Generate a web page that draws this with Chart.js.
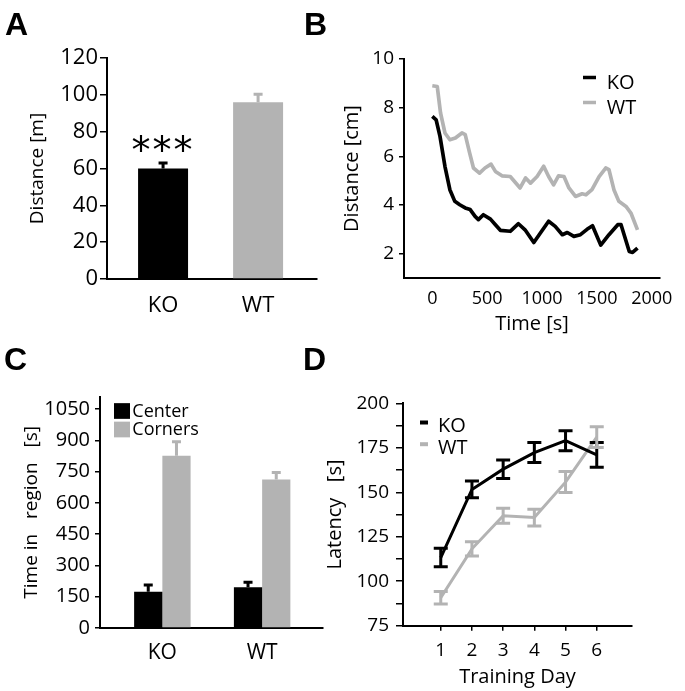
<!DOCTYPE html>
<html>
<head>
<meta charset="utf-8">
<title>Open field / latency figure</title>
<script src="https://cdn.jsdelivr.net/npm/chart.js@4.4.1/dist/chart.umd.min.js"></script>
<style>
  body { margin: 0; background: #fff; }
  #fig { position: relative; width: 685px; height: 691px; overflow: hidden; background: #fff; }
  canvas { position: absolute; }
  .tag { position: absolute; font: bold 32px "Liberation Sans", Arial, sans-serif; line-height: 32px; color: #000; }
</style>
</head>
<body>
<div id="fig">
  <canvas id="chartA" width="340" height="335" style="left:0;top:0"></canvas>
  <canvas id="chartB" width="345" height="340" style="left:340px;top:0"></canvas>
  <canvas id="chartC" width="340" height="356" style="left:0;top:335px"></canvas>
  <canvas id="chartD" width="365" height="356" style="left:320px;top:335px"></canvas>
  <div class="tag" style="left:5px;top:8px">A</div>
  <div class="tag" style="left:304px;top:8px">B</div>
  <div class="tag" style="left:4px;top:343px">C</div>
  <div class="tag" style="left:303px;top:343px">D</div>
</div>
<script>
// ---- data ----
// A: total distance
const groups = ["KO", "WT"];
const distanceM = [60, 96];
const distanceErr = [3, 4.3];
const sigMarks = ["***", ""];
const yTicksA = [0, 20, 40, 60, 80, 100, 120];

// B: distance per time bin
const koTime = [0, 35, 70, 115, 160, 205, 250, 300, 345, 390, 420, 465, 530, 575, 620, 710, 785, 845, 925, 985,
  1060, 1120, 1185, 1230, 1290, 1350, 1410, 1460, 1535, 1610, 1690, 1720, 1795, 1825, 1870];
const koDist = [7.64, 7.5, 6.82, 5.59, 4.63, 4.15, 4.01, 3.88, 3.81, 3.53, 3.4, 3.6, 3.42, 3.19, 2.96, 2.92, 3.23, 2.98, 2.46, 2.85,
  3.33, 3.12, 2.78, 2.87, 2.71, 2.78, 3.0, 3.15, 2.35, 2.78, 3.19, 3.19, 2.09, 2.05, 2.23];
const wtTime = [0, 45, 75, 115, 160, 210, 270, 300, 340, 375, 430, 480, 535, 575, 635, 710, 800, 850, 895, 955,
  1015, 1060, 1105, 1150, 1200, 1245, 1305, 1365, 1400, 1455, 1520, 1580, 1610, 1655, 1700, 1765, 1810, 1870];
const wtDist = [8.9, 8.87, 7.78, 6.96, 6.68, 6.75, 6.96, 6.89, 6.14, 5.52, 5.31, 5.52, 5.68, 5.38, 5.2, 5.17, 4.7, 5.11, 4.9, 5.17,
  5.59, 5.17, 4.83, 5.2, 5.17, 4.7, 4.35, 4.46, 4.42, 4.63, 5.17, 5.52, 5.45, 4.63, 4.15, 3.94, 3.67, 2.98];
const xTicksB = [0, 500, 1000, 1500, 2000];
const yTicksB = [2, 4, 6, 8, 10];

// C: time in region
const regions = ["Center", "Corners"];
const centerTime = [174, 195];
const centerErr = [32, 24];
const cornersTime = [826, 712];
const cornersErr = [67, 34];
const yTicksC = [0, 150, 300, 450, 600, 750, 900, 1050];

// D: latency per training day
const days = [1, 2, 3, 4, 5, 6];
const koLatency = [113.3, 151.6, 163, 172.3, 179, 171];
const koLatencyErr = [5.2, 4.7, 5.2, 5.6, 5.6, 7];
const wtLatency = [90.7, 118.2, 136.8, 135.8, 155.7, 181];
const wtLatencyErr = [3.5, 4, 4.2, 4.7, 5.9, 5.8];
const yTicksD = [75, 100, 125, 150, 175, 200];

const BLACK = "#000000";
const GRAY = "#b3b3b3";

Chart.defaults.font.family = '"Open Sans", sans-serif';
Chart.defaults.color = "#000";

// error bars drawn from the chart's own scales
const errorBars = {
  id: "errorBars",
  afterDatasetsDraw(chart) {
    const ctx = chart.ctx;
    chart.data.datasets.forEach((ds, di) => {
      if (!ds.errors) return;
      const meta = chart.getDatasetMeta(di);
      const vs = meta.vScale;
      meta.data.forEach((el, i) => {
        const v = ds.data[i].y;
        const e = ds.errors[i];
        const col = Array.isArray(ds.errColor) ? ds.errColor[i] : ds.errColor;
        const yTop = vs.getPixelForValue(v + e);
        const yBot = vs.getPixelForValue(ds.errBoth ? v - e : v);
        const hw = ds.capWidth / 2;
        ctx.save();
        ctx.strokeStyle = col;
        ctx.lineWidth = ds.errWidth;
        ctx.beginPath();
        ctx.moveTo(el.x, yTop);
        ctx.lineTo(el.x, yBot);
        ctx.moveTo(el.x - hw, yTop);
        ctx.lineTo(el.x + hw, yTop);
        if (ds.errBoth) {
          ctx.moveTo(el.x - hw, yBot);
          ctx.lineTo(el.x + hw, yBot);
        }
        ctx.stroke();
        ctx.restore();
      });
    });
  }
};

// significance stars above bars
const sigText = {
  id: "sigText",
  afterDatasetsDraw(chart) {
    const ctx = chart.ctx;
    chart.data.datasets.forEach((ds, di) => {
      if (!ds.marks) return;
      const meta = chart.getDatasetMeta(di);
      meta.data.forEach((el, i) => {
        if (!ds.marks[i]) return;
        const top = meta.vScale.getPixelForValue(ds.data[i].y + ds.errors[i]);
        ctx.save();
        ctx.font = '38px "DejaVu Sans"';
        ctx.textAlign = "center";
        ctx.textBaseline = "alphabetic";
        ctx.fillStyle = "#000";
        ctx.letterSpacing = "2px";
        ctx.fillText(ds.marks[i], el.x, top);
        ctx.restore();
      });
    });
  }
};

// small legend: dash or box + label, positioned in canvas px
const miniLegend = {
  id: "miniLegend",
  afterDraw(chart, args, opts) {
    if (!opts || opts.x === undefined) return;
    const ctx = chart.ctx;
    ctx.save();
    ctx.font = opts.size + 'px "Open Sans"';
    ctx.textBaseline = "middle";
    chart.data.datasets.forEach((ds, i) => {
      const y = opts.y + i * opts.row;
      ctx.fillStyle = ds.legendColor;
      ctx.fillRect(opts.x, y + opts.markDy - opts.markH / 2, opts.markW, opts.markH);
      ctx.fillStyle = "#000";
      ctx.fillText(ds.label, opts.x + opts.markW + opts.gap, y + 2);
    });
    ctx.restore();
  }
};

function xAxis(o) {
  return {
    type: "linear", min: o.min, max: o.max, offset: false,
    afterBuildTicks: a => { a.ticks = o.ticks.map(v => ({ value: v })); },
    afterFit: a => { a.height = o.height; },
    grid: { display: !!o.tickLen, drawOnChartArea: false, drawTicks: !!o.tickLen, tickLength: o.tickLen || 0,
      color: "#000", lineWidth: 1.5, offset: false },
    border: { display: true, color: "#000", width: 2 },
    ticks: { font: { size: o.size }, padding: o.pad, maxRotation: 0, autoSkip: false,
      callback: o.cb || (v => String(v)) },
    title: o.title ? { display: true, text: o.title, font: { size: o.titleSize }, padding: { top: 0, bottom: o.titlePad } }
      : { display: false }
  };
}

function yAxis(o) {
  return {
    min: o.min, max: o.max,
    afterBuildTicks: o.build || (a => { a.ticks = o.ticks.map(v => ({ value: v })); }),
    afterFit: a => { a.width = o.width; },
    grid: { display: true, drawOnChartArea: false, drawTicks: true, tickLength: o.tickLen, color: "#000", lineWidth: 1.5 },
    border: { display: true, color: "#000", width: 2 },
    ticks: { font: { size: o.size }, padding: o.pad, autoSkip: false, callback: o.cb || (v => String(v)) },
    title: { display: true, text: o.title, font: { size: o.titleSize }, padding: { top: o.titlePad, bottom: 0 } }
  };
}

function baseOptions(padding, scales, plugins) {
  return {
    responsive: false, animation: false, devicePixelRatio: 1,
    layout: { padding },
    plugins: Object.assign({ legend: { display: false }, tooltip: { enabled: false } }, plugins || {}),
    scales
  };
}

// ---- A ----
new Chart(document.getElementById("chartA"), {
  type: "bar",
  data: {
    datasets: [{
      data: groups.map((g, i) => ({ x: i, y: distanceM[i] })),
      backgroundColor: [BLACK, GRAY],
      categoryPercentage: 0.526, barPercentage: 1,
      errors: distanceErr, errColor: [BLACK, GRAY], errBoth: false, errWidth: 3, capWidth: 9,
      marks: sigMarks
    }]
  },
  options: baseOptions({ top: 58, right: 23, bottom: 0, left: 0 }, {
    x: xAxis({ min: -0.59, max: 1.62, ticks: [0, 1], height: 56, size: 22, pad: 14,
      cb: (v, i) => groups[i] }),
    y: yAxis({ min: 0, max: 120, ticks: yTicksA, width: 107, size: 22, pad: 2, tickLen: 7,
      title: "Distance [m]", titleSize: 19, titlePad: 26.6 })
  }),
  plugins: [errorBars, sigText]
});

// ---- B ----
new Chart(document.getElementById("chartB"), {
  type: "line",
  data: {
    datasets: [
      { label: "KO", data: koTime.map((t, i) => ({ x: t, y: koDist[i] })), borderColor: BLACK, legendColor: BLACK,
        borderWidth: 3.7, pointRadius: 0, tension: 0, borderJoinStyle: "round" },
      { label: "WT", data: wtTime.map((t, i) => ({ x: t, y: wtDist[i] })), borderColor: GRAY, legendColor: GRAY,
        borderWidth: 3.7, pointRadius: 0, tension: 0, borderJoinStyle: "round" }
    ]
  },
  options: baseOptions({ top: 59, right: 25, bottom: 0, left: 0 }, {
    x: xAxis({ min: -258, max: 2075, ticks: xTicksB, height: 62, size: 18, pad: 10,
      title: "Time [s]", titleSize: 20, titlePad: 4 }),
    y: yAxis({ min: 1, max: 10, ticks: yTicksB, width: 64, size: 19, pad: 5, tickLen: 5,
      title: "Distance [cm]", titleSize: 20, titlePad: 0 })
  }, {
    miniLegend: { x: 243, y: 81, row: 25, markW: 13, markH: 3.5, markDy: -3.5, gap: 10.7, size: 20 }
  }),
  plugins: [miniLegend]
});

// ---- C ----
new Chart(document.getElementById("chartC"), {
  type: "bar",
  data: {
    datasets: [
      { label: regions[0], data: groups.map((g, i) => ({ x: i, y: centerTime[i] })),
        backgroundColor: BLACK, legendColor: BLACK, categoryPercentage: 0.566, barPercentage: 1,
        errors: centerErr, errColor: BLACK, errBoth: false, errWidth: 3, capWidth: 9 },
      { label: regions[1], data: groups.map((g, i) => ({ x: i, y: cornersTime[i] })),
        backgroundColor: GRAY, legendColor: GRAY, categoryPercentage: 0.566, barPercentage: 1,
        errors: cornersErr, errColor: GRAY, errBoth: false, errWidth: 3, capWidth: 9 }
    ]
  },
  options: baseOptions({ top: 61.7, right: 17, bottom: 0, left: 0 }, {
    x: xAxis({ min: -0.625, max: 1.61, ticks: [0, 1], height: 63, size: 21, pad: 12.5,
      cb: (v, i) => groups[i] }),
    y: yAxis({ min: 0, max: 1109, ticks: yTicksC, width: 100, size: 20, pad: 5, tickLen: 5,
      title: "Time in   region   [s]", titleSize: 19, titlePad: 20.3 })
  }, {
    miniLegend: { x: 114, y: 74.5, row: 18.5, markW: 16, markH: 15.7, markDy: 1.5, gap: 2.3, size: 18 }
  }),
  plugins: [errorBars, miniLegend]
});

// ---- D ----
new Chart(document.getElementById("chartD"), {
  type: "line",
  data: {
    datasets: [
      { label: "KO", data: days.map((d, i) => ({ x: d, y: koLatency[i] })), borderColor: BLACK, legendColor: BLACK,
        borderWidth: 3, pointRadius: 0, tension: 0,
        errors: koLatencyErr, errColor: BLACK, errBoth: true, errWidth: 3, capWidth: 14 },
      { label: "WT", data: days.map((d, i) => ({ x: d, y: wtLatency[i] })), borderColor: GRAY, legendColor: GRAY,
        borderWidth: 3, pointRadius: 0, tension: 0,
        errors: wtLatencyErr, errColor: GRAY, errBoth: true, errWidth: 3, capWidth: 14 }
    ]
  },
  options: baseOptions({ top: 68.3, right: 53, bottom: 0, left: 0 }, {
    x: xAxis({ min: -0.21, max: 7.13, ticks: days, height: 65.3, size: 19, pad: 8, tickLen: 5,
      title: "Training Day", titleSize: 20, titlePad: 2 }),
    y: yAxis({ min: 75, max: 200, width: 83, size: 19, pad: 7, tickLen: 7,
      build: a => {
        const t = [];
        yTicksD.forEach((v, i) => {
          t.push({ value: v });
          if (i < yTicksD.length - 1) t.push({ value: (v + yTicksD[i + 1]) / 2 });
        });
        a.ticks = t;
      },
      cb: v => (yTicksD.includes(v) ? String(v) : ""),
      title: "Latency   [s]", titleSize: 20, titlePad: 3 })
  }, {
    miniLegend: { x: 100, y: 89.5, row: 21.7, markW: 8, markH: 4, markDy: -2, gap: 10, size: 20 }
  }),
  plugins: [errorBars, miniLegend]
});
</script>
</body>
</html>
